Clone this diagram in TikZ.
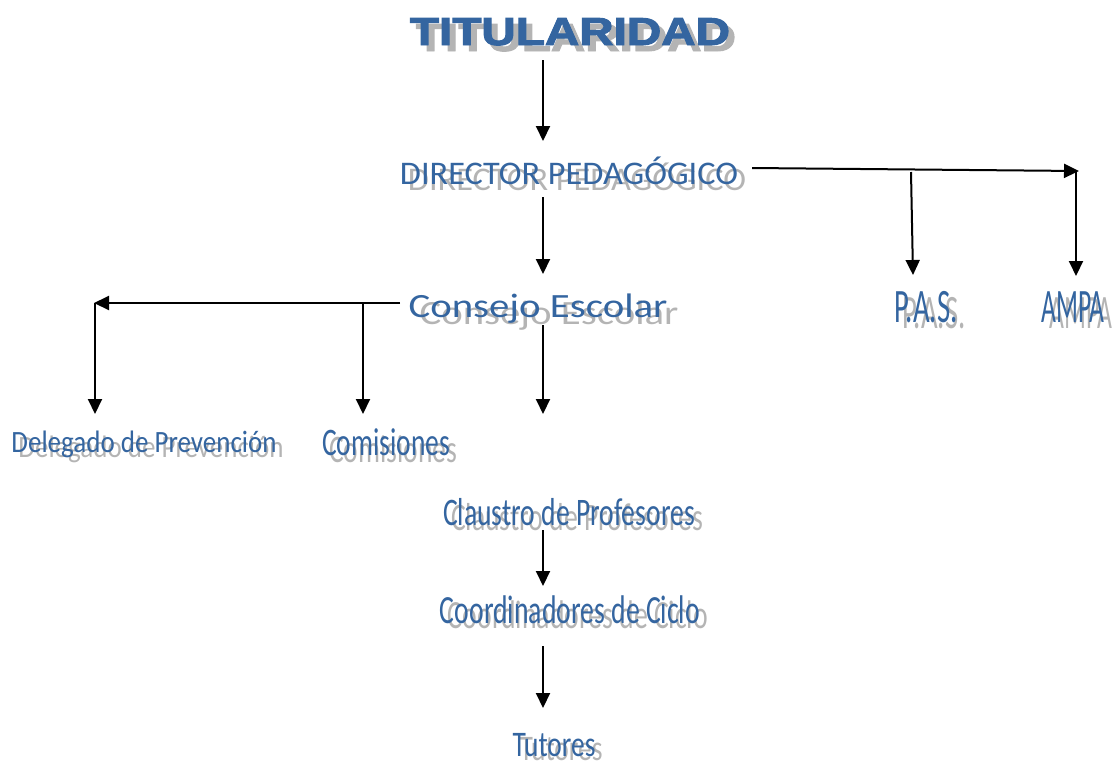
\documentclass[tikz,border=0pt]{standalone}
\usepackage{fontspec}
\usepackage{graphicx}
\setmainfont{Carlito}
\newfontfamily\titfont[BoldFeatures={FakeBold=2.5}]{Liberation Sans}
\usetikzlibrary{arrows.meta}

\definecolor{azul}{HTML}{3465A0}
\definecolor{gris}{HTML}{B4B4B4}

% texto a ancho fijo: {ancho}{tamano}{texto}
\newcommand{\ajusta}[3]{\resizebox{#1pt}{\height}{\fontsize{#2}{#2}\selectfont #3}}

\tikzset{
  cargo/.style={inner sep=0pt, anchor=base, text=azul},
  sombra/.style={inner sep=0pt, anchor=base, text=gris},
  flecha/.style={line width=2pt, -{Triangle[length=15pt,width=14pt]}}
}

\begin{document}
\begin{tikzpicture}[x=1pt,y=-1pt]
  \useasboundingbox (0,0) rectangle (1113,764);

  % Sombras de los textos
  \node[sombra] at (576,51) {\titfont\bfseries\ajusta{320}{39}{TITULARIDAD}};
  \node[sombra] at (577,190) {\ajusta{338}{33}{DIRECTOR PEDAGÓGICO}};
  \node[sombra] at (549,324) {\ajusta{259}{34}{Consejo Escolar}};
  \node[sombra] at (151,457) {\ajusta{265}{31}{Delegado de Prevención}};
  \node[sombra] at (393,462) {\ajusta{128}{39}{Comisiones}};
  \node[sombra] at (934,328) {\ajusta{63}{48}{P.A.S.}};
  \node[sombra] at (1081,328) {\ajusta{63}{48}{AMPA}};
  \node[sombra] at (577,530) {\ajusta{252}{39}{Claustro de Profesores}};
  \node[sombra] at (578,628) {\ajusta{260}{40}{Coordinadores de Ciclo}};
  \node[sombra] at (561,760) {\ajusta{83}{36}{Tutores}};

  % Cargos
  \node[cargo] (tit) at (570,45) {\titfont\bfseries\ajusta{320}{39}{TITULARIDAD}};
  \node[cargo] (dir) at (569,184) {\ajusta{338}{33}{DIRECTOR PEDAGÓGICO}};
  \node[cargo] (con) at (538,317) {\ajusta{259}{34}{Consejo Escolar}};
  \node[cargo] (del) at (144,452) {\ajusta{265}{31}{Delegado de Prevención}};
  \node[cargo] (com) at (386,455) {\ajusta{128}{39}{Comisiones}};
  \node[cargo] (pas) at (926,322) {\ajusta{63}{48}{P.A.S.}};
  \node[cargo] (ampa) at (1073,322) {\ajusta{63}{48}{AMPA}};
  \node[cargo] (cla) at (569,525) {\ajusta{252}{39}{Claustro de Profesores}};
  \node[cargo] (coo) at (570,623) {\ajusta{260}{40}{Coordinadores de Ciclo}};
  \node[cargo] (tut) at (554,756) {\ajusta{83}{36}{Tutores}};

  % Puntos de las flechas
  \coordinate (tit-s) at (543,60);
  \coordinate (dir-n) at (543,141);
  \coordinate (dir-e) at (752,168);
  \coordinate (ampa-r) at (1079,171);
  \coordinate (ampa-t) at (1076,172);
  \coordinate (ampa-n) at (1076,276);
  \coordinate (pas-t) at (911,172);
  \coordinate (pas-n) at (913,275);
  \coordinate (dir-s) at (543,197);
  \coordinate (con-n) at (543,274);
  \coordinate (con-w) at (400,303);
  \coordinate (del-r) at (94,303);
  \coordinate (del-t) at (95,303);
  \coordinate (del-n) at (95,414);
  \coordinate (com-t) at (363,303);
  \coordinate (com-n) at (363,414);
  \coordinate (con-s) at (543,325);
  \coordinate (cla-n) at (543,414);
  \coordinate (cla-s) at (543,530);
  \coordinate (coo-n) at (543,586);
  \coordinate (coo-s) at (543,646);
  \coordinate (tut-n) at (543,708);

  % Flechas
  \draw[flecha] (tit-s) -- (dir-n);
  \draw[flecha] (dir-e) -- (ampa-r);
  \draw[flecha] (ampa-t) -- (ampa-n);
  \draw[flecha] (pas-t) -- (pas-n);
  \draw[flecha] (dir-s) -- (con-n);
  \draw[flecha] (con-w) -- (del-r);
  \draw[flecha] (del-t) -- (del-n);
  \draw[flecha] (com-t) -- (com-n);
  \draw[flecha] (con-s) -- (cla-n);
  \draw[flecha] (cla-s) -- (coo-n);
  \draw[flecha] (coo-s) -- (tut-n);
\end{tikzpicture}
\end{document}
